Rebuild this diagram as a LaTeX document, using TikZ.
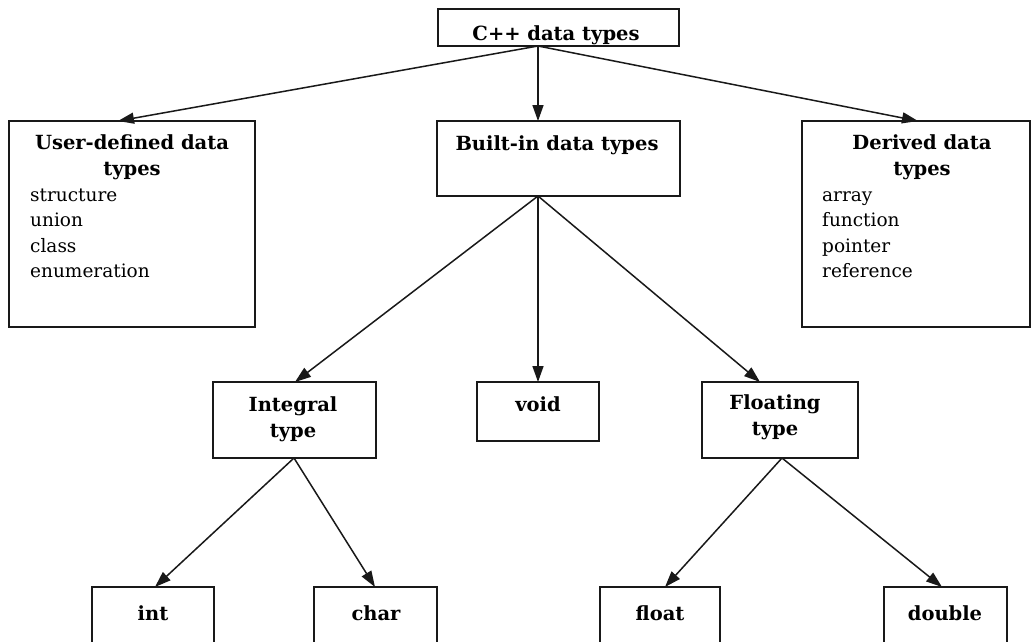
\documentclass[tikz,border=0pt]{standalone}
\usepackage{fontspec}
\setmainfont{DejaVu Serif}
\usetikzlibrary{arrows.meta,calc}
\begin{document}
\begin{tikzpicture}[x=1pt,y=-1pt,
  box/.style={draw=black!90, line width=1.6pt, anchor=north west, inner sep=0pt, outer sep=0pt},
  head/.style={font=\fontsize{19.5}{22}\selectfont\bfseries, anchor=base, inner sep=0pt},
  item/.style={font=\fontsize{18.5}{21}\selectfont, anchor=base west, inner sep=0pt},
  arr/.style={-{Triangle[length=16pt,width=11pt]}, line width=1.5pt, draw=black!90}]
\clip (0,0) rectangle (1036,642);
\fill[white] (0,0) rectangle (1036,642);
% boxes
\node[box, minimum width=241pt, minimum height=37pt] (root) at (438,9) {};
\node[box, minimum width=246pt, minimum height=206pt] (user) at (9,121) {};
\node[box, minimum width=243pt, minimum height=75pt] (builtin) at (437,121) {};
\node[box, minimum width=228pt, minimum height=206pt] (derived) at (802,121) {};
\node[box, minimum width=163pt, minimum height=76pt] (integral) at (213,382) {};
\node[box, minimum width=122pt, minimum height=59pt] (void) at (477,382) {};
\node[box, minimum width=156pt, minimum height=76pt] (floating) at (702,382) {};
\node[box, minimum width=122pt, minimum height=80pt] (int) at (92,587) {};
\node[box, minimum width=123pt, minimum height=80pt] (char) at (314,587) {};
\node[box, minimum width=120pt, minimum height=80pt] (float) at (600,587) {};
\node[box, minimum width=123pt, minimum height=80pt] (double) at (884,587) {};
% texts
\node[head] (troot) at (556,41) {C++ data types};
\node[head] (tuser1) at (132,149) {User-defined data};
\node[head] (tuser2) at (132,175) {types};
\node[item] (u1) at (30,201) {structure};
\node[item] (u2) at (30,226) {union};
\node[item] (u3) at (30,252) {class};
\node[item] (u4) at (30,277) {enumeration};
\node[head] (tbuilt) at (557,150) {Built-in data types};
\node[head] (tder1) at (922,149) {Derived data};
\node[head] (tder2) at (922,175) {types};
\node[item] (d1) at (822,201) {array};
\node[item] (d2) at (822,226) {function};
\node[item] (d3) at (822,252) {pointer};
\node[item] (d4) at (822,277) {reference};
\node[head] (tint1) at (293,411) {Integral};
\node[head] (tint2) at (293,437) {type};
\node[head] (tvoid) at (538,411) {void};
\node[head] (tflo1) at (775,409) {Floating};
\node[head] (tflo2) at (775,435) {type};
\node[head] (tint) at (153,620) {int};
\node[head] (tchar) at (376,620) {char};
\node[head] (tfloat) at (660,620) {float};
\node[head] (tdouble) at (945,620) {double};
% arrows
\coordinate (rs) at ($(root.south west)+(100,0)$);
\draw[arr] (rs) -- ($(user.north west)+(109,0)$);
\draw[arr] (rs) -- ($(builtin.north west)+(101,0)$);
\draw[arr] (rs) -- ($(derived.north west)+(116,0)$);
\coordinate (bs) at ($(builtin.south west)+(101,0)$);
\draw[arr] (bs) -- ($(integral.north west)+(82,0)$);
\draw[arr] (bs) -- (void.north);
\draw[arr] (bs) -- ($(floating.north west)+(58,0)$);
\coordinate (is) at ($(integral.south west)+(81,0)$);
\draw[arr] (is) -- ($(int.north west)+(63,0)$);
\draw[arr] (is) -- ($(char.north west)+(61,0)$);
\coordinate (fs) at ($(floating.south west)+(80,0)$);
\draw[arr] (fs) -- ($(float.north west)+(65,0)$);
\draw[arr] (fs) -- ($(double.north west)+(58,0)$);
\end{tikzpicture}
\end{document}
